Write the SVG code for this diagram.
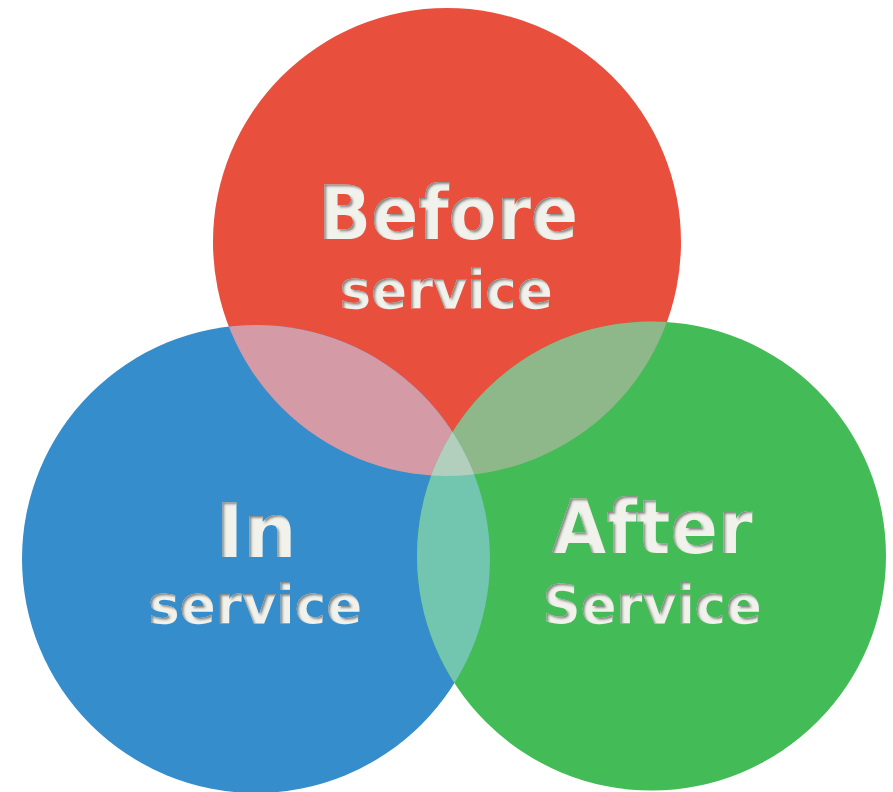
<svg xmlns="http://www.w3.org/2000/svg" width="893" height="792" viewBox="0 0 893 792">
  <defs>
    <style>
      .lbl { font-family: "DejaVu Sans", Verdana, "Liberation Sans", sans-serif; font-weight: bold; fill: #F2F2EC; text-anchor: middle; filter: url(#inset); }
      .big { font-size: 75px; }
      .small { font-size: 54px; }
    </style>
    <filter id="inset" x="-10%" y="-20%" width="120%" height="140%">
      <feOffset in="SourceAlpha" dx="1.6" dy="1.6" result="off"/>
      <feGaussianBlur in="off" stdDeviation="0.9" result="blur"/>
      <feComposite in="SourceAlpha" in2="blur" operator="out" result="inner"/>
      <feFlood flood-color="#6f6f6f" flood-opacity="0.9"/>
      <feComposite in2="inner" operator="in" result="shadow"/>
      <feMerge>
        <feMergeNode in="SourceGraphic"/>
        <feMergeNode in="shadow"/>
      </feMerge>
    </filter>
    <clipPath id="clipRed"><circle cx="447" cy="242" r="234"/></clipPath>
    <clipPath id="clipBlue"><circle cx="256" cy="559" r="234"/></clipPath>
  </defs>

  <g id="node-before">
    <circle cx="447" cy="242" r="234" fill="#E94F3D"/>
  </g>
  <g id="node-in">
    <circle cx="256" cy="559" r="234" fill="#368DCB"/>
  </g>
  <g id="node-after">
    <circle cx="651.5" cy="556" r="234.5" fill="#43BB56"/>
  </g>

  <g id="overlaps">
    <circle cx="256" cy="559" r="234" fill="#D49AA5" clip-path="url(#clipRed)"/>
    <circle cx="651.5" cy="556" r="234.5" fill="#8FB88A" clip-path="url(#clipRed)"/>
    <circle cx="651.5" cy="556" r="234.5" fill="#72C5AE" clip-path="url(#clipBlue)"/>
    <g clip-path="url(#clipRed)">
      <circle cx="651.5" cy="556" r="234.5" fill="#B2CFBD" clip-path="url(#clipBlue)"/>
    </g>
  </g>

  <g id="labels">
    <text class="lbl big" x="448" y="239" textLength="260" lengthAdjust="spacingAndGlyphs">Before</text>
    <text class="lbl small" x="446" y="308" textLength="213" lengthAdjust="spacingAndGlyphs">service</text>
    <text class="lbl big" x="256" y="557" textLength="81" lengthAdjust="spacingAndGlyphs">In</text>
    <text class="lbl small" x="255" y="623" textLength="214" lengthAdjust="spacingAndGlyphs">service</text>
    <text class="lbl big" x="652" y="553" textLength="201" lengthAdjust="spacingAndGlyphs">After</text>
    <text class="lbl small" x="652" y="623" textLength="219" lengthAdjust="spacingAndGlyphs">Service</text>
  </g>
</svg>
